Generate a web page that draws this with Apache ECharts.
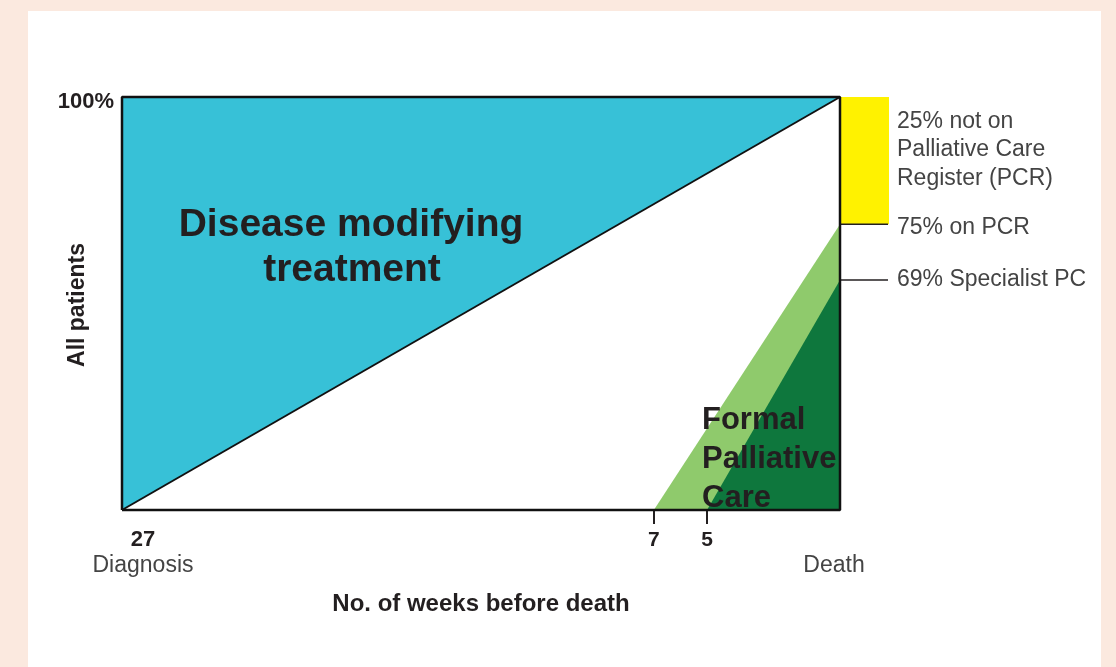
<!DOCTYPE html>
<html>
<head>
<meta charset="utf-8">
<script src="https://cdn.jsdelivr.net/npm/echarts@6/dist/echarts.min.js"></script>
<style>
html,body{margin:0;padding:0;background:#fbe9df;}
#panel{position:absolute;left:28px;top:11px;width:1073px;height:656px;background:#ffffff;}
#chart{position:absolute;left:0;top:0;width:1116px;height:667px;}
</style>
</head>
<body>
<div id="panel"></div>
<div id="chart"></div>
<script>
// Weeks before death (x) and share of patients on the schematic scale (y)
const tickWeeks = [7, 5];
const diagnosisWeek = 27;
// Schematic polygons as [weeks, share] vertices
const diseaseTreatment = [[27, 0], [27, 100], [0, 100]];
const pcrStartWeek = 7;
const specialistStartWeek = 5;
const pcrTop = 69.2;        // level of "75% on PCR" on the schematic
const specialistTop = 55.7; // level of "69% Specialist PC" on the schematic
const notOnPcr = [100, 69.2];
const labelsRight = ["25% not on", "Palliative Care", "Register (PCR)"];
const labelPcr = "75% on PCR";
const labelSpecialist = "69% Specialist PC";

const pcrPoly = [[pcrStartWeek, 0], [0, pcrTop], [0, 0]];
const specialistPoly = [[specialistStartWeek, 0], [0, specialistTop], [0, 0]];
const frame = [[27, 0], [0, 0], [0, 100], [27, 100], [27, 0]];
const diagonal = [[27, 0], [0, 100]];

const FONT = '"Liberation Sans", Arial, Helvetica, sans-serif';
const DARK = '#231f20';
const GREY = '#444444';

function polySeries(verts, color, z) {
  return {
    type: 'custom', z: z, silent: true,
    data: verts,
    encode: {x: 0, y: 1},
    renderItem: function (params, api) {
      if (params.dataIndex !== 0) return null;
      const pts = verts.map(v => api.coord(v));
      return {type: 'polygon', shape: {points: pts}, style: {fill: color}};
    }
  };
}

const chart = echarts.init(document.getElementById('chart'), null, {renderer: 'canvas'});
const option = {
  animation: false,
  backgroundColor: 'transparent',
  grid: {left: 122, right: 276, top: 97, bottom: 157, containLabel: false},
  xAxis: {
    type: 'value', min: 0, max: 27, inverse: true,
    axisLine: {show: false}, splitLine: {show: false},
    axisTick: {show: true, customValues: tickWeeks, length: 14, lineStyle: {color: DARK, width: 2}},
    axisLabel: {show: true, customValues: tickWeeks, margin: 20, fontFamily: FONT, fontWeight: 'bold', fontSize: 21, color: DARK}
  },
  yAxis: {
    type: 'value', min: 0, max: 100,
    axisLine: {show: false}, splitLine: {show: false}, axisTick: {show: false}, axisLabel: {show: false}
  },
  series: [
    polySeries(pcrPoly, '#8fca6c', 2),
    polySeries(specialistPoly, '#0e773d', 3),
    polySeries(diseaseTreatment, '#37c1d7', 4),
    {
      type: 'custom', z: 5, silent: true, clip: false,
      data: [[0, notOnPcr[0]], [0, notOnPcr[1]], [0, specialistTop]],
      encode: {x: 0, y: 1},
      renderItem: function (params, api) {
        if (params.dataIndex !== 0) return null;
        const top = api.coord([0, notOnPcr[0]]);
        const bot = api.coord([0, notOnPcr[1]]);
        const spec = api.coord([0, specialistTop]);
        return {type: 'group', children: [
          {type: 'rect', shape: {x: top[0], y: top[1], width: 49, height: bot[1] - top[1]}, style: {fill: '#fff200'}},
          {type: 'line', shape: {x1: bot[0], y1: bot[1], x2: bot[0] + 48, y2: bot[1]}, style: {stroke: '#231f20', lineWidth: 1.5}},
          {type: 'line', shape: {x1: spec[0], y1: spec[1], x2: spec[0] + 48, y2: spec[1]}, style: {stroke: '#231f20', lineWidth: 1.5}}
        ]};
      }
    },
    {type: 'line', z: 6, data: diagonal, symbol: 'none', silent: true, lineStyle: {color: '#111', width: 2}},
    {type: 'line', z: 7, data: frame, symbol: 'none', silent: true, clip: false, lineStyle: {color: '#111', width: 2.5}}
  ],
  graphic: [
    {type: 'text', z: 100, x: 351, y: 225, style: {text: 'Disease modifying', font: 'bold 39px ' + FONT, fill: DARK, align: 'center', verticalAlign: 'middle'}},
    {type: 'text', z: 100, x: 352, y: 270, style: {text: 'treatment', font: 'bold 39px ' + FONT, fill: DARK, align: 'center', verticalAlign: 'middle'}},
    {type: 'text', z: 100, x: 702, y: 420, style: {text: 'Formal', font: 'bold 31px ' + FONT, fill: DARK, align: 'left', verticalAlign: 'middle'}},
    {type: 'text', z: 100, x: 702, y: 459, style: {text: 'Palliative', font: 'bold 31px ' + FONT, fill: DARK, align: 'left', verticalAlign: 'middle'}},
    {type: 'text', z: 100, x: 702, y: 498, style: {text: 'Care', font: 'bold 31px ' + FONT, fill: DARK, align: 'left', verticalAlign: 'middle'}},
    {type: 'text', z: 100, x: 114, y: 102, style: {text: '100%', font: 'bold 22px ' + FONT, fill: DARK, align: 'right', verticalAlign: 'middle'}},
    {type: 'text', z: 100, x: 78, y: 305, rotation: Math.PI / 2, style: {text: 'All patients', font: 'bold 23px ' + FONT, fill: DARK, align: 'center', verticalAlign: 'middle'}},
    {type: 'text', z: 100, x: 143, y: 540, style: {text: String(diagnosisWeek), font: 'bold 22px ' + FONT, fill: DARK, align: 'center', verticalAlign: 'middle'}},
    {type: 'text', z: 100, x: 143, y: 566, style: {text: 'Diagnosis', font: '23px ' + FONT, fill: GREY, align: 'center', verticalAlign: 'middle'}},
    {type: 'text', z: 100, x: 834, y: 566, style: {text: 'Death', font: '23px ' + FONT, fill: GREY, align: 'center', verticalAlign: 'middle'}},
    {type: 'text', z: 100, x: 481, y: 604, style: {text: 'No. of weeks before death', font: 'bold 24px ' + FONT, fill: DARK, align: 'center', verticalAlign: 'middle'}},
    {type: 'text', z: 100, x: 897, y: 122, style: {text: labelsRight[0], font: '23px ' + FONT, fill: GREY, align: 'left', verticalAlign: 'middle'}},
    {type: 'text', z: 100, x: 897, y: 150, style: {text: labelsRight[1], font: '23px ' + FONT, fill: GREY, align: 'left', verticalAlign: 'middle'}},
    {type: 'text', z: 100, x: 897, y: 179, style: {text: labelsRight[2], font: '23px ' + FONT, fill: GREY, align: 'left', verticalAlign: 'middle'}},
    {type: 'text', z: 100, x: 897, y: 228, style: {text: labelPcr, font: '23px ' + FONT, fill: GREY, align: 'left', verticalAlign: 'middle'}},
    {type: 'text', z: 100, x: 897, y: 280, style: {text: labelSpecialist, font: '23px ' + FONT, fill: GREY, align: 'left', verticalAlign: 'middle'}}
  ]
};
chart.setOption(option);
</script>
</body>
</html>
